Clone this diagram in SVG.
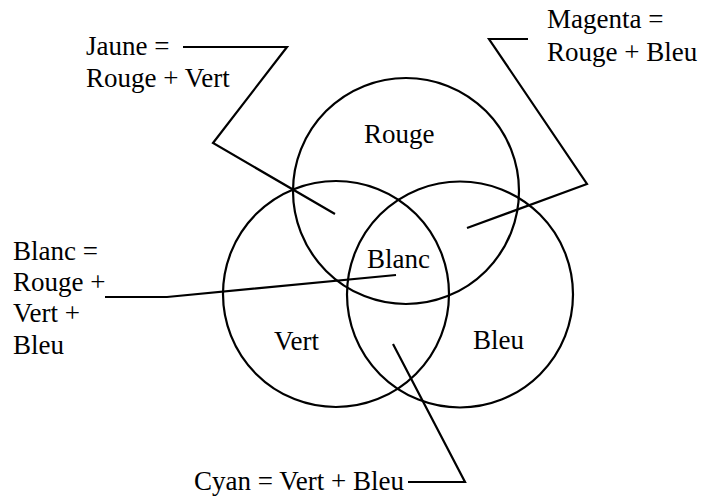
<svg xmlns="http://www.w3.org/2000/svg" width="701" height="501" viewBox="0 0 701 501">
<style>
.c{fill:none;stroke:#000;stroke-width:2.2}
.l{fill:none;stroke:#000;stroke-width:2.2;stroke-linejoin:miter}
</style>
<rect width="701" height="501" fill="#fff"/>
<g font-family="'Liberation Serif', 'Times New Roman', serif" font-size="27" fill="#000">
<g id="rouge"><circle class="c" cx="406" cy="191" r="113"/><text x="364" y="143">Rouge</text></g>
<g id="vert"><circle class="c" cx="336" cy="294" r="113"/><text x="274" y="350">Vert</text></g>
<g id="bleu"><circle class="c" cx="460" cy="294.5" r="113"/><text x="473" y="349">Bleu</text></g>
<g id="blanc-center"><text x="367" y="268">Blanc</text></g>
<g id="connectors">
<polyline class="l" points="183,47 287,47 213,143 335,214"/>
<polyline class="l" points="528,39 489,39 587,184 467,228"/>
<polyline class="l" points="105,297 167,297 396,275"/>
<polyline class="l" points="408,482 465,482 393,344"/>
</g>
<g id="jaune"><text x="86" y="55">Jaune =</text><text x="86" y="87">Rouge + Vert</text></g>
<g id="magenta"><text x="547" y="28">Magenta =</text><text x="547" y="61">Rouge + Bleu</text></g>
<g id="blanc"><text x="13" y="260">Blanc =</text><text x="13" y="291">Rouge +</text><text x="13" y="322">Vert +</text><text x="13" y="354">Bleu</text></g>
<g id="cyan"><text x="194" y="490">Cyan = Vert + Bleu</text></g>
</g>
</svg>
